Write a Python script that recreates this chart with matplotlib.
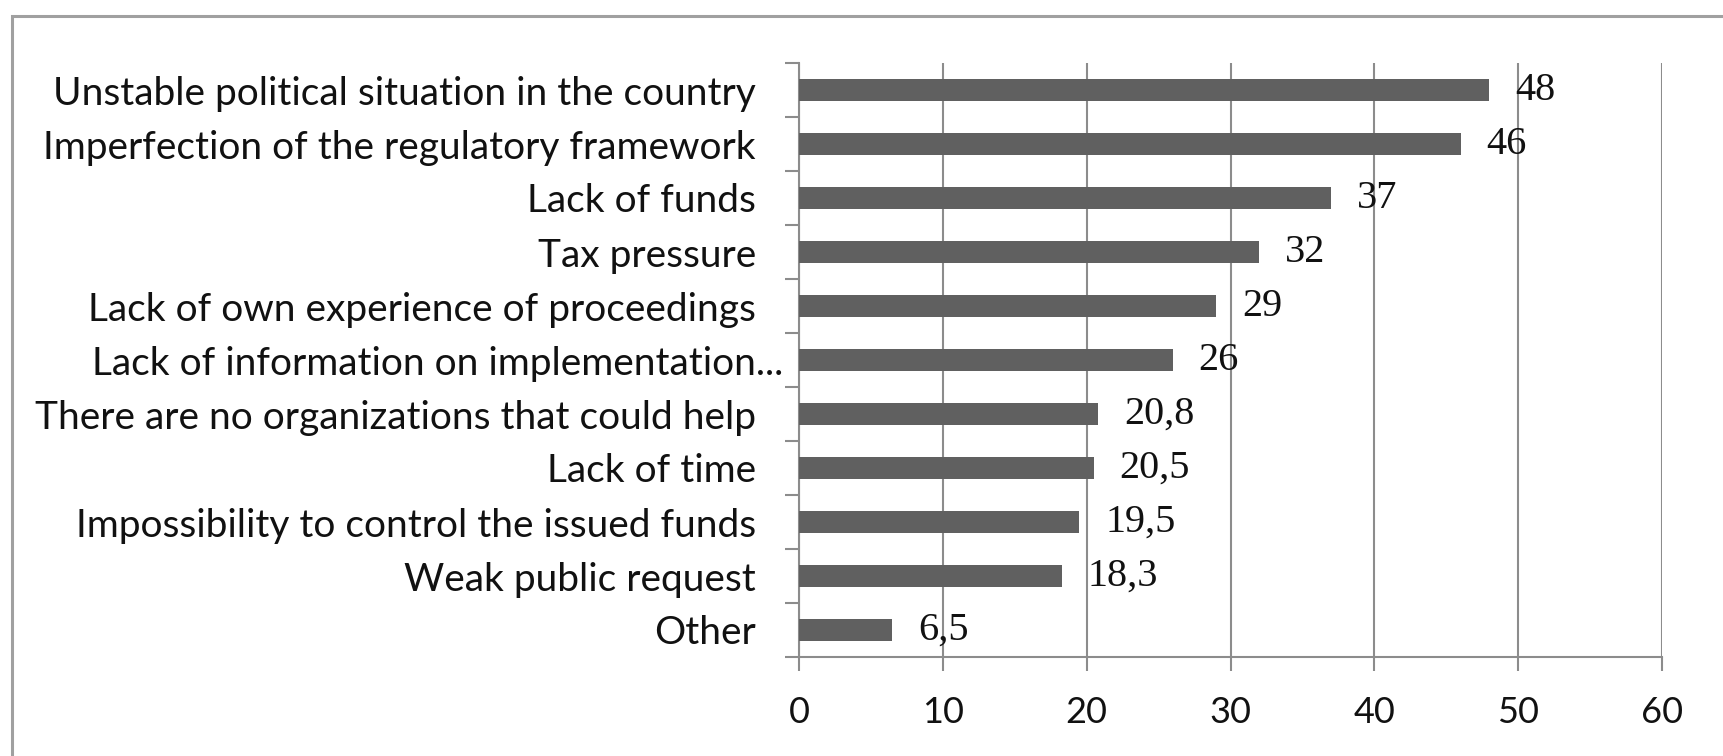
import matplotlib
matplotlib.use("Agg")
import matplotlib.pyplot as plt
from matplotlib.patches import Rectangle
from matplotlib.transforms import ScaledTranslation
import numpy as np

categories = [
    "Unstable political situation in the country",
    "Imperfection of the regulatory framework",
    "Lack of funds",
    "Tax pressure",
    "Lack of own experience of proceedings",
    "Lack of information on implementation...",
    "There are no organizations that could help",
    "Lack of time",
    "Impossibility to control the issued funds",
    "Weak public request",
    "Other",
]
values = [48, 46, 37, 32, 29, 26, 20.8, 20.5, 19.5, 18.3, 6.5]
value_labels = ["48", "46", "37", "32", "29", "26", "20,8", "20,5", "19,5", "18,3", "6,5"]
xticks = [0, 10, 20, 30, 40, 50, 60]
xtick_labels = ["0", "10", "20", "30", "40", "50", "60"]

W, H = 1723, 756
fig = plt.figure(figsize=(W / 100, H / 100), dpi=100)
ax = fig.add_axes([799 / W, 1 - 657 / H, (1662 - 799) / W, (657 - 63) / H])

n = len(categories)
ypos = np.arange(n)
ax.barh(ypos, values, height=0.39, color="#606060", zorder=3)
ax.set_ylim(n - 0.5, -0.5)
ax.set_xlim(0, 60)

# gridlines
ax.set_xticks(xticks)
ax.set_xticklabels(xtick_labels, fontfamily="Lato", fontsize=26, color="#111111")
ax.xaxis.grid(True, color="#8c8c8c", linewidth=1.5, zorder=0)
ax.tick_params(axis="x", length=10, width=1.5, color="#8c8c8c", pad=18)

ax.set_yticks(ypos)
ax.set_yticklabels(categories, fontfamily="Lato", fontsize=28, color="#111111")
ax.tick_params(axis="y", length=0, pad=31)
ax.set_yticks(np.arange(n + 1) - 0.5, minor=True)
ax.tick_params(axis="y", which="minor", length=10, width=1.5, color="#8c8c8c")

# shift truncated label to the right like the source
lbl = ax.get_yticklabels()[5]
lbl.set_transform(lbl.get_transform() + ScaledTranslation(27 / 100, 0, fig.dpi_scale_trans))

for s in ["top", "right"]:
    ax.spines[s].set_visible(False)
for s in ["left", "bottom"]:
    ax.spines[s].set_color("#8c8c8c")
    ax.spines[s].set_linewidth(1.5)

for y, v, t in zip(ypos, values, value_labels):
    ax.annotate(t, xy=(v, y), xytext=(18.5, 0), textcoords="offset points",
                ha="left", va="center", fontfamily="Liberation Serif", fontsize=29,
                color="#111111", zorder=4)

# outer frame (cut at right and bottom)
fig.add_artist(Rectangle((12 / W, -0.1), 1.2, 1 - 16 / H + 0.1, transform=fig.transFigure,
                         fill=False, edgecolor="#a0a0a0", linewidth=2.2, clip_on=False))

fig.savefig("out.png", dpi=100)
